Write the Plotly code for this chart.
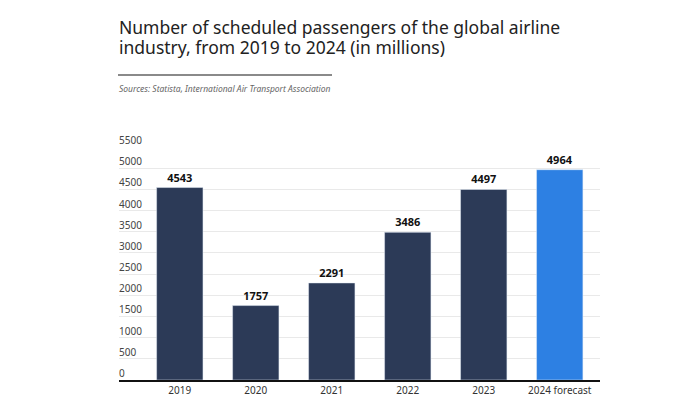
import plotly.graph_objects as go

categories = ["2019", "2020", "2021", "2022", "2023", "2024 forecast"]
passengers = [4543, 1757, 2291, 3486, 4497, 4964]
bar_colors = ["#2c3a57", "#2c3a57", "#2c3a57", "#2c3a57", "#2c3a57", "#2d80e3"]
y_ticks = [0, 500, 1000, 1500, 2000, 2500, 3000, 3500, 4000, 4500, 5000, 5500]

title_lines = [
    "Number of scheduled passengers of the global airline",
    "industry, from 2019 to 2024 (in millions)",
]
source_text = "Sources: Statista, International Air Transport Association"

FONT = "Noto Sans"

fig = go.Figure(
    go.Bar(
        x=list(range(len(categories))),
        y=passengers,
        marker_color=bar_colors,
        width=0.61,
        text=[str(v) for v in passengers],
        textposition="outside",
        textfont=dict(family=FONT, size=11, color="#111111", weight="bold"),
        cliponaxis=False,
        hoverinfo="skip",
    )
)

W, H = 700, 394
L, R, T, B = 119, 100, 147, 14
ph = H - T - B
pw = W - L - R


def py(ypix):
    return (H - B - ypix) / ph


def px(xpix):
    return (xpix - L) / pw


fig.update_layout(
    width=W,
    height=H,
    margin=dict(l=L, r=R, t=T, b=B, autoexpand=False),
    paper_bgcolor="white",
    plot_bgcolor="white",
    showlegend=False,
    font=dict(family=FONT),
    xaxis=dict(
        range=[-0.8, 5.53],
        tickmode="array",
        tickvals=list(range(len(categories))),
        ticktext=categories,
        tickfont=dict(family=FONT, size=10, color="#333333"),
        ticklabelstandoff=0,
        showgrid=False,
        showline=True,
        linecolor="#111111",
        linewidth=1.5,
        ticks="",
        zeroline=False,
        fixedrange=True,
    ),
    yaxis=dict(
        range=[0, 5500],
        tickmode="array",
        tickvals=y_ticks,
        showticklabels=False,
        showgrid=True,
        gridcolor="#e9e9e9",
        gridwidth=1,
        zeroline=False,
        showline=False,
        ticks="",
        fixedrange=True,
    ),
)

for v in y_ticks:
    fig.add_annotation(
        text=str(v), xref="paper", yref="y",
        x=-0.004, y=v, xanchor="left", yanchor="bottom", yshift=-2,
        showarrow=False, font=dict(family=FONT, size=10, color="#444444"),
    )

fig.add_annotation(
    text=title_lines[0], xref="paper", yref="paper",
    x=px(117), y=py(26.5), xanchor="left", yanchor="middle",
    showarrow=False, font=dict(family=FONT, size=17.5, color="#222222"),
)
fig.add_annotation(
    text=title_lines[1], xref="paper", yref="paper",
    x=px(117), y=py(46.5), xanchor="left", yanchor="middle",
    showarrow=False, font=dict(family=FONT, size=17.5, color="#222222"),
)
fig.add_shape(
    type="line", xref="paper", yref="paper",
    x0=px(118), x1=px(332), y0=py(75), y1=py(75),
    line=dict(color="#8a8a8a", width=2),
)
fig.add_annotation(
    text="<i>" + source_text + "</i>", xref="paper", yref="paper",
    x=px(117), y=py(88), xanchor="left", yanchor="middle",
    showarrow=False, font=dict(family=FONT, size=8.5, color="#666666"),
)

fig.write_html(
    "out.html",
    config={"displayModeBar": False},
    post_script="document.body.style.margin='0';document.body.style.padding='0';",
)
